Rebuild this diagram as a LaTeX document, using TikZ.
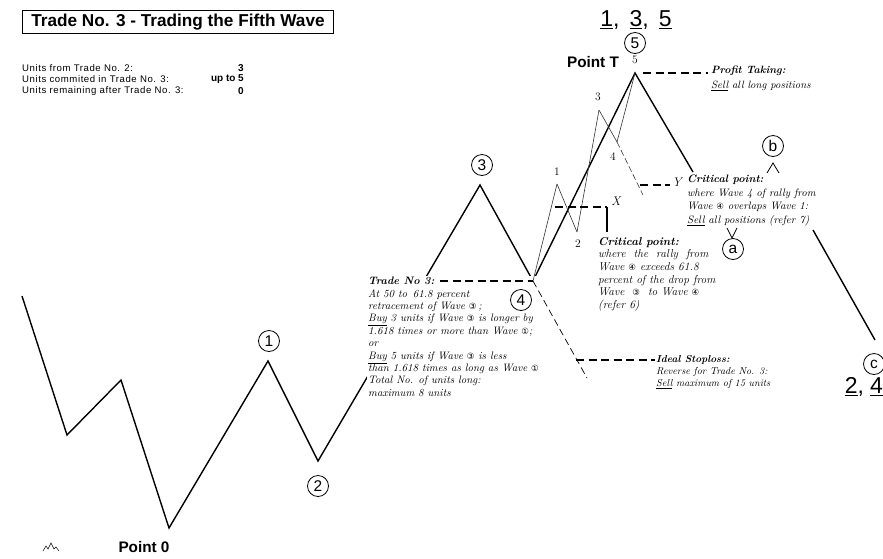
\documentclass[tikz,border=0pt]{standalone}
\usepackage{fontspec}
\newfontfamily\arialfont{Liberation Sans}
\newfontfamily\unitsfont[LetterSpace=6]{Liberation Sans}
\newfontfamily\circfont{DejaVu Sans}
\usepackage{tikz}
\usetikzlibrary{calc,positioning}
\usetikzlibrary{arrows.meta}

\newcommand{\cw}[1]{{\circfont\fontsize{8.5}{8.5}\selectfont #1}}

\begin{document}
\begin{tikzpicture}[x=1pt,y=-1pt]
      \begin{scope}
        \tikzstyle{wline} = [line width=1.4pt, line join=miter]
        \tikzstyle{subline} = [line width=0.6pt, black!80]
        \tikzstyle{dline} = [line width=1.1pt, dash pattern=on 8pt off 4.5pt]
        \tikzstyle{cnode} = [draw=black, line width=0.8pt, circle, inner sep=0pt, minimum size=21pt, font=\arialfont\fontsize{15.5}{15.5}\selectfont]
        \tikzstyle{snode} = [inner sep=1pt, font=\fontsize{11.5}{11.5}\selectfont]
        \tikzstyle{pnode} = [inner sep=1pt, font=\arialfont\bfseries\fontsize{15.3}{15.3}\selectfont]
        \tikzstyle{unode} = [inner sep=0pt, font=\unitsfont\fontsize{9.6}{9.6}\selectfont]
        \tikzstyle{vnode} = [inner sep=0pt, anchor=east, font=\arialfont\bfseries\fontsize{10}{10}\selectfont]
        \tikzstyle{tnode} = [inner sep=1pt, align=left, font=\itshape\fontsize{10.8}{12.4}\selectfont]
        \tikzstyle{bignum} = [inner sep=0pt, font=\arialfont\fontsize{23}{23}\selectfont]

        \useasboundingbox (0,0) rectangle (883,558);

        % title and unit table
        \node[draw, line width=0.9pt, anchor=north west, minimum width=311pt, minimum height=23pt, inner sep=0pt,
              font=\arialfont\bfseries\fontsize{17.2}{17}\selectfont] (title) at (22,10) {Trade No. 3 - Trading the Fifth Wave};
        \node[unode, anchor=west] (u1) at (22,68) {Units from Trade No. 2:};
        \node[unode, anchor=west] (u2) at (22,79.5) {Units commited in Trade No. 3:};
        \node[unode, anchor=west] (u3) at (22,91) {Units remaining after Trade No. 3:};
        \node[vnode] (v1) at (244,68) {3};
        \node[vnode] (v2) at (244,79.5) {up to 5};
        \node[vnode] (v3) at (244,91) {0};

        % wave points
        \coordinate (s0) at (22,296);
        \coordinate (s1) at (67,435);
        \coordinate (s2) at (121,380);
        \coordinate (p0) at (169,528);
        \coordinate (w1) at (268,361);
        \coordinate (w2) at (318,461);
        \coordinate (w3) at (480,185);
        \coordinate (w4) at (533,281);
        \coordinate (wT) at (635,73);
        \coordinate (wa) at (693,172);
        \coordinate (wb) at (813,230);
        \coordinate (wc) at (875,340);
        \coordinate (a1) at (557,184);
        \coordinate (a2) at (577,232);
        \coordinate (a3) at (599,110);
        \coordinate (a4) at (617,142);

        \draw[wline] (s0) -- (s1) -- (s2) -- (p0) -- (w1) -- (w2) -- (w3) -- (w4) -- (wT) -- (wa);
        \draw[wline] (wb) -- (wc);

        % note over the rising leg
        \node[tnode, fill=white, anchor=north west] (trade) at (367,276) {%
          \textbf{Trade No 3:}\\
          At 50 to\, 61.8 percent\\
          retracement of Wave \cw{③}\,;\\
          \underline{Buy} 3 units if Wave \cw{③} is longer by\\
          1.618 times or more than Wave \cw{①};\\
          or\\
          \underline{Buy} 5 units if Wave \cw{③} is less\\
          than 1.618 times as long as Wave \cw{①}\\
          Total No. of units long:\\
          maximum 8 units};

        \path[-, draw, subline]
        (w4) edge node {} (a1)
        (a1) edge node {} (a2)
        (a2) edge node {} (a3)
        (a3) edge node {} (a4)
        (a4) edge node {} (wT)
        ;

        % critical levels
        \coordinate (yend) at (643,195);
        \coordinate (y1) at (640,185);
        \coordinate (y2) at (670,185);
        \coordinate (x1) at (555,207);
        \coordinate (x2) at (607,207);
        \coordinate (x3) at (607,232);
        \coordinate (t1) at (440,281);
        \coordinate (sl) at (587,378);
        \coordinate (sl1) at (576,360);
        \coordinate (sl2) at (655,360);
        \coordinate (pt1) at (643,73);
        \coordinate (pt2) at (708,73);

        \draw[subline, dash pattern=on 6pt off 3pt] (a4) -- (yend);
        \draw[dline] (y1) -- (y2);
        \draw[dline] (x1) -- (x2);
        \draw[line width=1.2pt] (x2) -- (x3);
        \draw[dline] (t1) -- (w4);
        \draw[line width=0.7pt, dash pattern=on 7pt off 4pt] (w4) -- (sl);
        \draw[dline] (sl1) -- (sl2);
        \draw[dline] (pt1) -- (pt2);

        \node[snode, font=\itshape\fontsize{12.5}{12.5}\selectfont] (xl) at (616,201) {X};
        \node[snode, font=\itshape\fontsize{12.5}{12.5}\selectfont] (yl) at (677,182) {Y};

        % wave labels
        \node[cnode] (c1) at (269,341) {1};
        \node[cnode] (c2) at (318,486) {2};
        \node[cnode] (c3) at (482,165) {3};
        \node[cnode] (c4) at (521,300) {4};
        \node[cnode] (c5) at (635,43) {5};
        \node[cnode] (ca) at (733,249) {a};
        \node[cnode] (cb) at (773,146) {b};
        \node[cnode] (cc) at (874,364) {c};

        \node[snode] (n1) at (557,172) {1};
        \node[snode] (n2) at (578,244) {2};
        \node[snode] (n3) at (598,97) {3};
        \node[snode] (n4) at (613,157) {4};
        \node[snode] (n5) at (635,60) {5};

        \node[pnode] (ptT) at (593,62) {Point T};
        \node[pnode] (pt0) at (144,547) {Point 0};

        \node[bignum] (top) at (636,20)
          {\underline{1},\hspace{10pt}\underline{3},\hspace{10pt}\underline{5}};
        \node[bignum, anchor=east] (bot) at (883,387)
          {\underline{2},\hspace{6pt}\underline{4}};

        % a/b markers
        \draw[line width=0.8pt] (767,173) -- (773,163) -- (779,173);
        \draw[line width=0.8pt] (727,228) -- (732,238) -- (737,228);

        % small mark
        \draw[line width=0.5pt] (43,551) -- (46,546) -- (48,549) -- (51,543) -- (54,549) -- (56,547) -- (59,551);

        % notes
        \node[tnode, anchor=north west, font=\itshape\fontsize{11.4}{12.6}\selectfont] (crit1) at (597,236) {%
          \textbf{Critical point:}\\
          where\ \ the\ \ rally\ \ from\\
          Wave \cw{④} exceeds 61.8\\
          percent of the drop from\\
          Wave\ \ \cw{③}\ \ to Wave \cw{④}\\
          (refer 6)};

        \node[tnode, anchor=north west, font=\itshape\fontsize{10.8}{13.5}\selectfont] (crit2) at (686,174) {%
          \textbf{Critical point:}\\
          where\ Wave 4 of rally from\\
          Wave \cw{④} overlaps Wave 1:\\
          \underline{Sell} all positions (refer 7)};

        \node[tnode, anchor=north west, font=\itshape\fontsize{10.6}{14.5}\selectfont] (profit) at (710,65) {%
          \textbf{Profit Taking:}\\
          \underline{Sell} all long positions};

        \node[tnode, anchor=north west, font=\itshape\fontsize{10.1}{12}\selectfont] (stop) at (655,354) {%
          \textbf{Ideal Stoploss:}\\
          Reverse for Trade No. 3:\\
          \underline{Sell} maximum of 15 units};
      \end{scope}
    \end{tikzpicture}
\end{document}
